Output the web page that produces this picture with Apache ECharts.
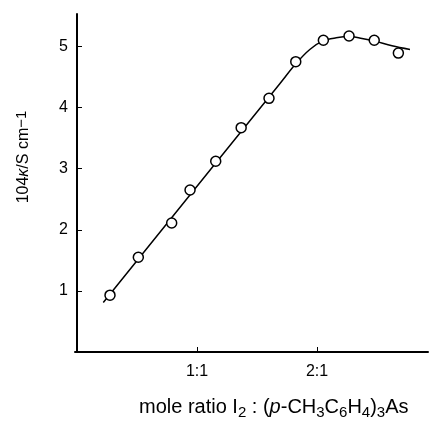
<!DOCTYPE html>
<html>
<head>
<meta charset="utf-8">
<script src="https://cdn.jsdelivr.net/npm/echarts@6/dist/echarts.min.js"></script>
<style>
html, body { margin: 0; padding: 0; background: #fff; }
#container { width: 429px; height: 422px; }
</style>
</head>
<body>
<div id="container"></div>
<script>
// measured points: mole ratio vs 10^4 kappa
var ratio = [0.275, 0.511, 0.789, 0.942, 1.156, 1.368, 1.600, 1.823, 2.053, 2.267, 2.477, 2.678];
var kappa = [0.93, 1.55, 2.11, 2.65, 3.12, 3.67, 4.15, 4.75, 5.10, 5.17, 5.10, 4.89];

// fitted curve drawn through the points
var fitRatio = [0.219, 1.69, 1.825, 1.94, 2.05, 2.16, 2.27, 2.375, 2.475, 2.625, 2.775];
var fitKappa = [0.81, 4.39, 4.72, 4.95, 5.09, 5.14, 5.16, 5.13, 5.09, 5.01, 4.95];

var xTicks = [1, 2];
var xTickLabels = ['1:1', '2:1'];
var yTicks = [1, 2, 3, 4, 5];

var dom = document.getElementById('container');
var myChart = echarts.init(dom);

function pairs(xs, ys) {
    var out = [];
    for (var i = 0; i < xs.length; i++) out.push([xs[i], ys[i]]);
    return out;
}

var font = '"Liberation Sans", Arial, sans-serif';

option = {
    animation: false,
    backgroundColor: '#fff',
    grid: { left: 75, right: 1, top: 14, bottom: 70 },
    xAxis: {
        type: 'value',
        min: -0.0167,
        max: 2.925,
        splitLine: { show: false },
        axisLine: { lineStyle: { color: '#000', width: 2 } },
        axisTick: { inside: true, length: 5, lineStyle: { color: '#000', width: 1 }, customValues: xTicks },
        axisLabel: {
            customValues: xTicks,
            margin: 12,
            color: '#000',
            fontSize: 16,
            fontFamily: font,
            formatter: function (v) {
                var i = xTicks.indexOf(Math.round(v));
                return i >= 0 ? xTickLabels[i] : '';
            }
        }
    },
    yAxis: {
        type: 'value',
        min: 0,
        max: 5.53,
        name: '10{n|4}{it|\u03ba}/S cm{sup|\u22121}',
        nameLocation: 'middle',
        nameRotate: 90,
        nameGap: 42,
        nameTextStyle: {
            color: '#000',
            fontSize: 16,
            fontFamily: font,
            padding: [0, 0, 0, 52],
            rich: {
                n: { fontSize: 16, fontFamily: font, color: '#000' },
                sup: { fontSize: 15, fontFamily: font, color: '#000', padding: [0, 0, 4, 0] },
                it: { fontSize: 16, fontStyle: 'italic', fontFamily: font, color: '#000' }
            }
        },
        splitLine: { show: false },
        axisLine: { lineStyle: { color: '#000', width: 2 } },
        axisTick: { inside: true, length: 5, lineStyle: { color: '#000', width: 1 }, customValues: yTicks },
        axisLabel: {
            customValues: yTicks,
            margin: 7,
            color: '#000',
            fontSize: 16,
            fontFamily: font
        }
    },
    graphic: [
        {
            type: 'text',
            left: 139,
            top: 397,
            style: {
                text: 'mole ratio I{sub|2} : ({it|p}-CH{sub|3}C{sub|6}H{sub|4}){sub|3}As',
                fill: '#000',
                font: '20px ' + font,
                rich: {
                    sub: { fontSize: 15, fontFamily: font, padding: [11, 0, 0, 0] },
                    it: { fontSize: 20, fontStyle: 'italic', fontFamily: font }
                }
            }
        }
    ],
    series: [
        {
            name: 'fit',
            type: 'line',
            data: pairs(fitRatio, fitKappa),
            smooth: 0.35,
            showSymbol: false,
            lineStyle: { color: '#000', width: 1.5 },
            z: 2
        },
        {
            name: 'measured',
            type: 'scatter',
            data: pairs(ratio, kappa),
            symbol: 'circle',
            symbolSize: 10,
            itemStyle: { color: '#fff', borderColor: '#000', borderWidth: 1.5, opacity: 1 },
            z: 3
        }
    ]
};

if (option && typeof option === 'object') {
    myChart.setOption(option, true);
}
window.addEventListener('resize', function () {
    myChart.resize();
});
</script>
</body>
</html>
